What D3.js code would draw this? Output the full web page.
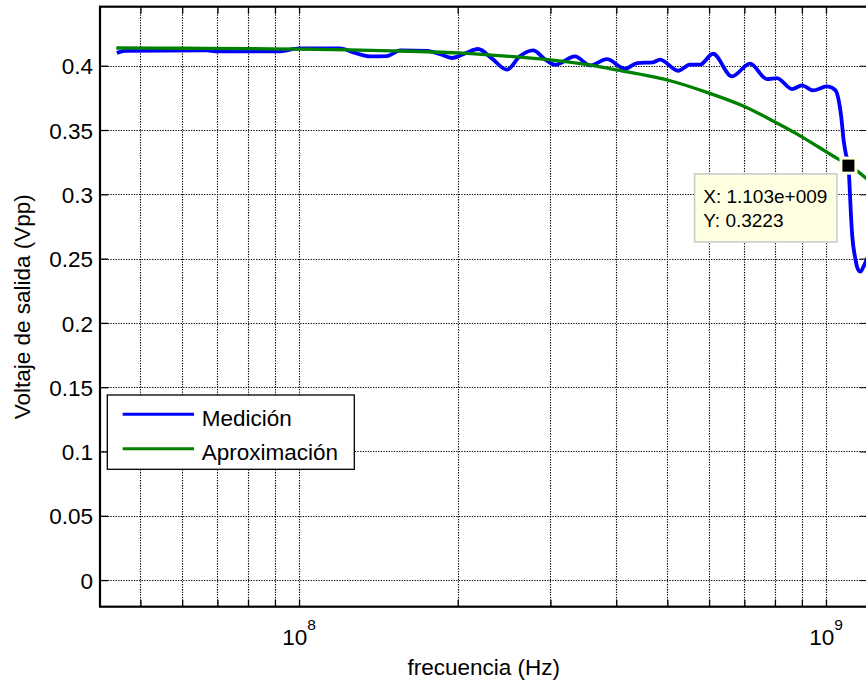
<!DOCTYPE html>
<html><head><meta charset="utf-8">
<script src="https://cdn.jsdelivr.net/npm/d3@7"></script>
<style>
html,body{margin:0;padding:0;background:#fff;}
svg{display:block;font-family:"Liberation Sans",Arial,Helvetica,sans-serif;}
</style></head><body>
<svg id="chart" width="866" height="683"></svg>
<script>
// Measured output voltage versus frequency
const freqMedicion = [4.51e7, 4.68e7, 6.69e7, 6.93e7, 9.12e7, 1.004e8, 1.196e8, 1.277e8, 1.364e8, 1.469e8,
  1.555e8, 1.75e8, 1.852e8, 1.951e8, 2.065e8, 2.186e8, 2.324e8, 2.481e8, 2.627e8, 2.78e8,
  2.93e8, 3.06e8, 3.34e8, 3.566e8, 3.84e8, 4.156e8, 4.38e8, 4.695e8, 4.842e8, 5.239e8,
  5.52e8, 5.767e8, 6.104e8, 6.632e8, 7.175e8, 7.727e8, 8.072e8, 8.62e8, 9.006e8, 9.448e8,
  1.004e9, 1.041e9, 1.057e9, 1.069e9, 1.08e9, 1.09e9, 1.103e9, 1.11e9, 1.115e9, 1.122e9,
  1.135e9, 1.148e9, 1.162e9, 1.182e9, 1.2e9];
const voltMedicion = [0.4100, 0.4115, 0.4119, 0.4112, 0.4112, 0.4135, 0.4135, 0.4100, 0.4073, 0.4075,
  0.4119, 0.4115, 0.4090, 0.4060, 0.4095, 0.4130, 0.4055, 0.3969, 0.4075, 0.4119,
  0.4050, 0.4008, 0.4073, 0.4002, 0.4051, 0.3977, 0.4021, 0.4026, 0.4047, 0.3961,
  0.4008, 0.4008, 0.4093, 0.3917, 0.4016, 0.3896, 0.3904, 0.3818, 0.3847, 0.3808,
  0.3839, 0.3811, 0.3733, 0.3603, 0.3422, 0.3320, 0.3223, 0.3020, 0.2850, 0.2670,
  0.2515, 0.2424, 0.2398, 0.2450, 0.2510];

// Fitted approximation
const freqAprox = [4.5e7, 6e7, 8e7, 1e8, 1.5e8, 2e8, 2.5e8, 3e8, 3.5e8, 4e8, 5e8, 6e8, 7e8, 8e8, 9e8, 1e9, 1.05e9, 1.103e9, 1.15e9, 1.2e9];
const voltAprox = [0.4138, 0.4136, 0.4133, 0.4129, 0.4116, 0.4100, 0.4073, 0.4045, 0.4010, 0.3968, 0.3889, 0.3787, 0.3683, 0.3562, 0.3447, 0.3332, 0.3279, 0.3225, 0.3176, 0.3115];

const seriesNames = ["Medición", "Aproximación"];
const seriesColors = ["#0000ff", "#008000"];

// Axis ticks
const yTickValues = [0, 0.05, 0.1, 0.15, 0.2, 0.25, 0.3, 0.35, 0.4];
const xDecadeTicks = [1e8, 1e9];
const xGridTicks = [5e7, 6e7, 7e7, 8e7, 9e7, 1e8, 2e8, 3e8, 4e8, 5e8, 6e8, 7e8, 8e8, 9e8, 1e9];

// Data cursor
const cursorFreq = 1.103e9;
const cursorVolt = 0.3223;

const xLabel = "frecuencia (Hz)";
const yLabel = "Voltaje de salida (Vpp)";

const svg = d3.select("#chart");
const L = 100, T = 6.7, B = 606.7, R = 867.7;

const x = d3.scaleLog().domain([4.19e7, 1.2e9]).range([L, R]);
const y = d3.scaleLinear().domain([-0.0207, 0.4459]).range([B, T]);

// dotted grid
const grid = svg.append("g").attr("stroke", "#000").attr("stroke-width", 1.1).attr("stroke-dasharray", "1.3,1.3");
grid.selectAll("line.v").data(xGridTicks).join("line").attr("class", "v")
  .attr("x1", d => Math.round(x(d)) + 0.5).attr("x2", d => Math.round(x(d)) + 0.5)
  .attr("y1", T).attr("y2", B);
grid.selectAll("line.h").data(yTickValues).join("line").attr("class", "h")
  .attr("y1", d => Math.round(y(d)) + 0.5).attr("y2", d => Math.round(y(d)) + 0.5)
  .attr("x1", L).attr("x2", R);

// curves
const lineM = d3.line().x(d => x(d[0])).y(d => y(d[1])).curve(d3.curveMonotoneX);
const lineA = d3.line().x(d => x(d[0])).y(d => y(d[1])).curve(d3.curveCatmullRom.alpha(0.5));
const medicion = freqMedicion.map((f, i) => [f, voltMedicion[i]]);
const aprox = freqAprox.map((f, i) => [f, voltAprox[i]]);
svg.append("path").datum(medicion).attr("d", lineM).attr("fill", "none")
  .attr("stroke", seriesColors[0]).attr("stroke-width", 3.8).attr("stroke-linejoin", "round");
svg.append("path").datum(aprox).attr("d", lineA).attr("fill", "none")
  .attr("stroke", seriesColors[1]).attr("stroke-width", 3.3).attr("stroke-linejoin", "round");

// axes
const fs = 22.5;
const yAxis = d3.axisLeft(y).tickValues(yTickValues).tickSizeInner(-8).tickSizeOuter(0).tickPadding(7)
  .tickFormat(d3.format("~g"));
const gy = svg.append("g").attr("transform", `translate(${L},0)`).call(yAxis);
gy.select(".domain").remove();
gy.selectAll(".tick line").attr("stroke-width", 1.3);
gy.selectAll(".tick text").attr("font-size", fs).attr("font-family", null).attr("fill", "#000").attr("dy", "0.36em");

const xAxisB = d3.axisBottom(x).tickValues(xGridTicks).tickSizeInner(-7).tickSizeOuter(0).tickFormat("");
const gxb = svg.append("g").attr("transform", `translate(0,${B})`).call(xAxisB);
gxb.select(".domain").remove();
gxb.selectAll(".tick line").attr("stroke-width", 1.3);
const xAxisT = d3.axisTop(x).tickValues(xGridTicks).tickSizeInner(-7).tickSizeOuter(0).tickFormat("");
const gxt = svg.append("g").attr("transform", `translate(0,${T})`).call(xAxisT);
gxt.select(".domain").remove();
gxt.selectAll(".tick line").attr("stroke-width", 1.3);
const yAxisR = d3.axisRight(y).tickValues(yTickValues).tickSizeInner(-8).tickSizeOuter(0).tickFormat("");
const gyr = svg.append("g").attr("transform", `translate(${R},0)`).call(yAxisR);
gyr.select(".domain").remove();

// decade labels 10^n
svg.selectAll("text.dec").data(xDecadeTicks).join("text").attr("class", "dec")
  .attr("x", d => x(d)).attr("y", 645).attr("text-anchor", "middle").attr("font-size", fs)
  .each(function(d) {
    const t = d3.select(this);
    t.append("tspan").text("10");
    t.append("tspan").attr("dy", -15).attr("font-size", 15.5).text(Math.round(Math.log10(d)));
  });

// box
svg.append("rect").attr("x", L).attr("y", T).attr("width", R - L).attr("height", B - T)
  .attr("fill", "none").attr("stroke", "#000").attr("stroke-width", 2.2);

// axis titles
svg.append("text").attr("x", (L + R) / 2).attr("y", 675).attr("text-anchor", "middle")
  .attr("font-size", fs).text(xLabel);
svg.append("text").attr("transform", `translate(30,${(T + B) / 2}) rotate(-90)`).attr("text-anchor", "middle")
  .attr("font-size", fs).text(yLabel);

// legend
const lg = svg.append("g");
lg.append("rect").attr("x", 107.3).attr("y", 395).attr("width", 247).attr("height", 74.3)
  .attr("fill", "#fff").attr("stroke", "#000").attr("stroke-width", 1.3);
seriesNames.forEach((name, i) => {
  const yy = 414.3 + i * 34.4;
  lg.append("line").attr("x1", 122.7).attr("x2", 194).attr("y1", yy).attr("y2", yy)
    .attr("stroke", seriesColors[i]).attr("stroke-width", 3);
  lg.append("text").attr("x", 201.7).attr("y", yy + 11.7).attr("font-size", fs).text(name);
});

// data cursor marker and tip
const mx = x(cursorFreq), my = y(cursorVolt);
const fmtExp = v => d3.format(".3e")(v).replace(/e([+-])(\d+)/, (m, s, d) => "e" + s + d.padStart(3, "0"));
const tipW = 142.3, tipH = 68;
const tipX = mx - 11.5 - tipW, tipY = my + 8.3;
svg.append("rect").attr("x", tipX).attr("y", tipY).attr("width", tipW).attr("height", tipH)
  .attr("fill", "#ffffe1").attr("stroke", "#c8c8c8").attr("stroke-width", 1.5);
svg.append("text").attr("x", tipX + 8.6).attr("y", tipY + 29).attr("font-size", 19)
  .text("X: " + fmtExp(cursorFreq));
svg.append("text").attr("x", tipX + 8.6).attr("y", tipY + 53).attr("font-size", 19)
  .text("Y: " + d3.format("~g")(cursorVolt));
svg.append("rect").attr("x", mx - 7.5).attr("y", my - 7.5).attr("width", 15).attr("height", 15)
  .attr("fill", "#000").attr("stroke", "#ffffe1").attr("stroke-width", 3);
</script>
</body></html>
